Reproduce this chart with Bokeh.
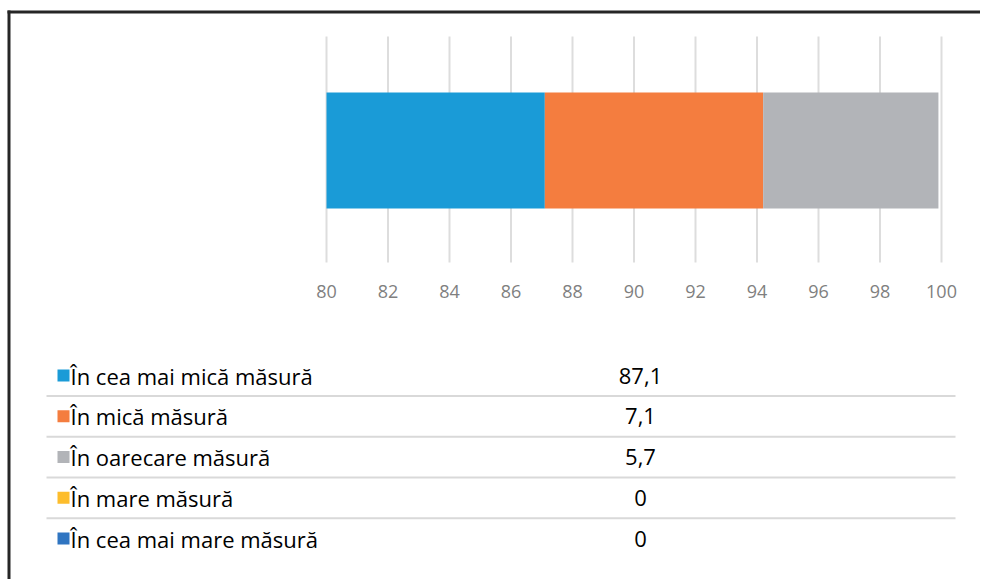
from bokeh.plotting import figure
from bokeh.models import Range1d, FixedTicker
from bokeh.core.properties import value
from bokeh.embed import file_html
from bokeh.resources import INLINE

# ---- data ----
categories = ["În cea mai mică măsură", "În mică măsură", "În oarecare măsură",
              "În mare măsură", "În cea mai mare măsură"]
values = [87.1, 7.1, 5.7, 0.0, 0.0]
value_labels = ["87,1", "7,1", "5,7", "0", "0"]
colors = ["#1A9BD7", "#F47D3F", "#B2B4B8", "#FDBD2C", "#2F75C1"]
x_ticks = [80, 82, 84, 86, 88, 90, 92, 94, 96, 98, 100]

FONT = "Open Sans"
W, H = 980, 579

# layout (pixels within the canvas)
AX_L, AX_R = 326, 941          # pixel position of x=80 and x=100
X0, X1 = 80, 100
scale = (AX_R - AX_L) / (X1 - X0)
x_start = X0 - AX_L / scale
x_end = X1 + (W - AX_R) / scale

p = figure(width=W, height=H, x_range=Range1d(x_start, x_end), y_range=Range1d(H, 0),
           output_backend="svg", toolbar_location=None,
           min_border_left=0, min_border_right=0, min_border_top=0, min_border_bottom=0)
p.extra_x_ranges = {"px": Range1d(0, W)}
p.outline_line_color = None
p.background_fill_color = "white"
p.border_fill_color = "white"
p.ygrid.grid_line_color = None
p.xgrid.grid_line_color = None
p.yaxis.visible = False

# gridlines of the chart area
GRID_TOP, GRID_BOT = 36, 262
p.segment(x0=x_ticks, x1=x_ticks, y0=[GRID_TOP] * len(x_ticks), y1=[GRID_BOT] * len(x_ticks),
          line_color="#DDDDDD", line_width=2)

# stacked bar (clipped at the axis minimum, as in the original)
BAR_Y, BAR_H = 150, 116
acc = 0.0
for i, v in enumerate(values):
    if v > 0 and acc + v > X0:
        p.hbar(y=[BAR_Y], left=[max(acc, X0)], right=[acc + v], height=BAR_H,
               fill_color=colors[i], line_color=None)
    acc += v

# x axis placed under the gridlines
p.xaxis.fixed_location = GRID_BOT
p.xaxis.ticker = FixedTicker(ticks=x_ticks)
p.xaxis.axis_line_color = None
p.xaxis.major_tick_line_color = None
p.xaxis.minor_tick_line_color = None
p.xaxis.major_label_standoff = 16
p.xaxis.major_label_text_font = FONT
p.xaxis.major_label_text_font_size = "18px"
p.xaxis.major_label_text_color = "#7F7F7F"

# data table with legend keys
n = len(categories)
ROW0, ROW_STEP = 375, 40.75
rows = [ROW0 + ROW_STEP * i for i in range(n)]
p.rect(x=[63] * n, y=rows, width=12, height=12, width_units="screen", height_units="screen",
       fill_color=colors, line_color=None, x_range_name="px")
p.text(x=[70] * n, y=rows, text=categories, text_baseline="middle", text_align="left",
       text_font=value(FONT), text_font_size="22px", text_color="#000000", x_range_name="px")
p.text(x=[640] * n, y=rows, text=value_labels, text_baseline="middle", text_align="center",
       text_font=value(FONT), text_font_size="22px", text_color="#000000", x_range_name="px")
seps = [ROW0 + ROW_STEP * (i + 0.5) for i in range(n - 1)]
p.segment(x0=[46] * (n - 1), x1=[955] * (n - 1), y0=seps, y1=seps,
          line_color="#D9D9D9", line_width=2, x_range_name="px")

# outer frame (top and left edges)
p.segment(x0=[7, 8.5], x1=[W, 8.5], y0=[11.5, 10], y1=[11.5, H],
          line_color="#262626", line_width=3, x_range_name="px")

open("out.html", "w").write(file_html(p, INLINE))
